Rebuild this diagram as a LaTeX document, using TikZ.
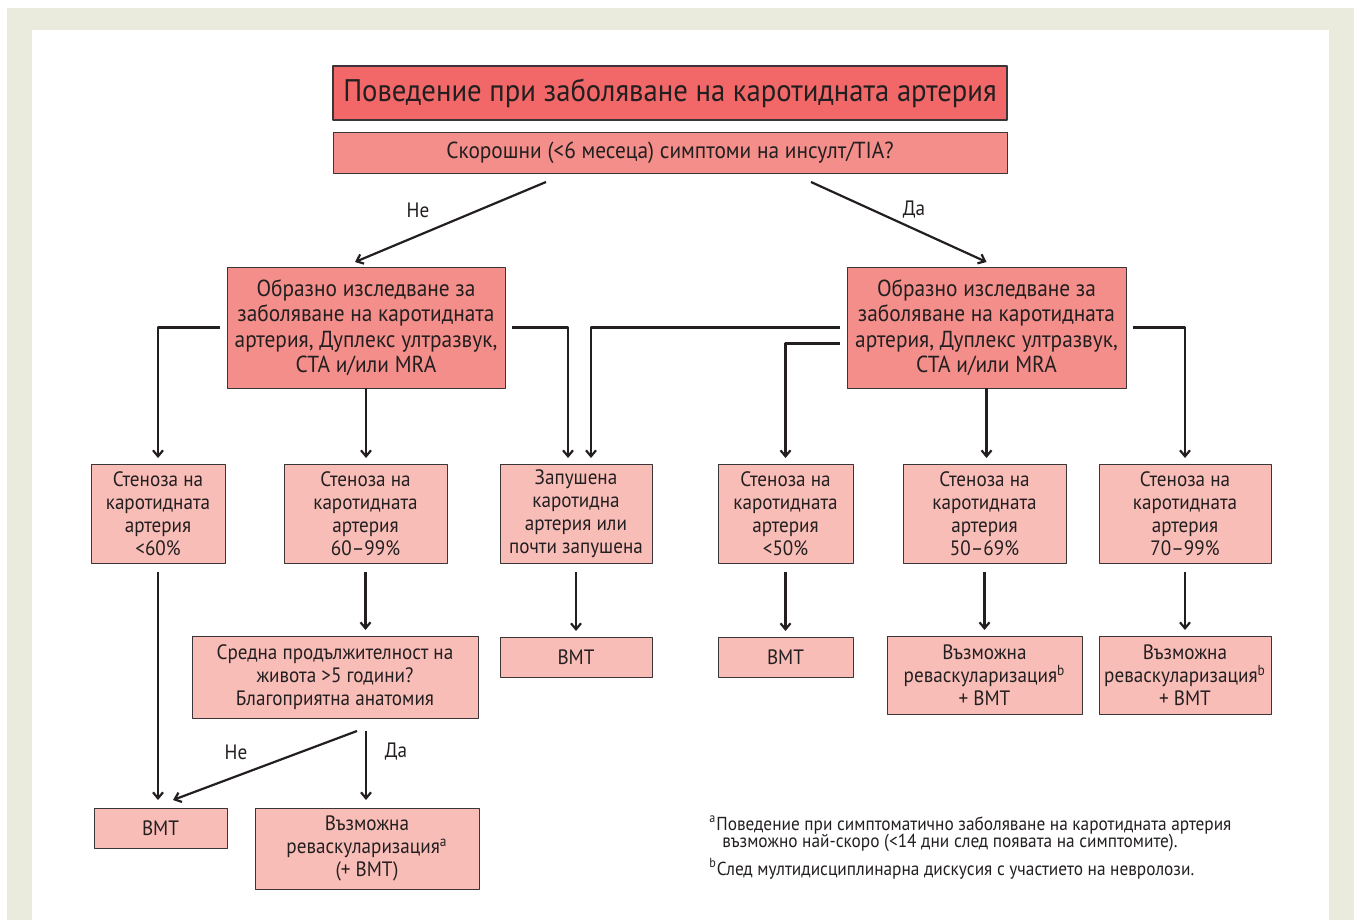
\documentclass[tikz,border=0pt]{standalone}
\usepackage{fontspec}
\setmainfont{PT Sans}[FakeStretch=0.92]
\usepackage{xcolor}
\usepackage{tikz}
\usetikzlibrary{arrows.meta,calc}

\definecolor{ink}{HTML}{231F20}
\definecolor{boxline}{HTML}{3A3536}
\definecolor{redhead}{HTML}{F26767}
\definecolor{redmid}{HTML}{F48E8A}
\definecolor{redlight}{HTML}{F9BDB8}
\definecolor{framebg}{HTML}{EAEADD}

\tikzset{
  box/.style={draw=boxline,line width=0.5pt,inner sep=0pt,outer sep=0pt,align=center,text=ink},
  topbox/.style={box,fill=redhead,line width=0.8pt,font=\fontsize{15.6}{18}\selectfont},
  qbox/.style={box,fill=redmid,font=\fontsize{11.6}{13}\selectfont},
  scanbox/.style={box,fill=redmid,font=\fontsize{11.6}{12.75}\selectfont},
  pinkbox/.style={box,fill=redlight,font=\fontsize{10.4}{11.5}\selectfont},
  link/.style={-{Straight Barb[length=3pt,width=5pt]},line width=1.1pt,draw=ink},
  answer/.style={font=\fontsize{10.4}{12}\selectfont,text=ink},
  note/.style={font=\fontsize{9.4}{10}\selectfont,text=ink,inner sep=0pt,anchor=west},
}

\begin{document}
\begin{tikzpicture}[x=0.5pt,y=-0.5pt,line join=round]
  \useasboundingbox (0,0) rectangle (1354,920);
  \fill[framebg] (7,8) rectangle (1354,920);
  \fill[white] (32,30) rectangle (1329,920);

  % header
  \node[topbox,minimum width=337pt,minimum height=27pt] (title) at (670,93)
    {Поведение при заболяване на каротидната артерия};
  \node[qbox,minimum width=337pt,minimum height=20pt] (q) at (670,153)
    {Скорошни (<6 месеца) симптоми на инсулт/TIA?};

  % imaging
  \node[scanbox,minimum width=139pt,minimum height=60.5pt] (img1) at (366,327.5)
    {Образно изследване за\\заболяване на каротидната\\артерия, Дуплекс ултразвук,\\CTA и/или MRA};
  \node[scanbox,minimum width=139.5pt,minimum height=60.5pt] (img2) at (986.5,327.5)
    {Образно изследване за\\заболяване на каротидната\\артерия, Дуплекс ултразвук,\\CTA и/или MRA};

  % stenosis level
  \node[pinkbox,minimum width=67pt,minimum height=49.5pt] (s1) at (158,513.5)
    {Стеноза на\\каротидната\\артерия\\<60\%};
  \node[pinkbox,minimum width=81.5pt,minimum height=49.5pt] (s2) at (365.5,513.5)
    {Стеноза на\\каротидната\\артерия\\60–99\%};
  \node[pinkbox,minimum width=76pt,minimum height=49.5pt] (s3) at (576,513.5)
    {Запушена\\каротидна\\артерия или\\почти запушена};
  \node[pinkbox,minimum width=67.5pt,minimum height=49.5pt] (s4) at (785.5,513.5)
    {Стеноза на\\каротидната\\артерия\\<50\%};
  \node[pinkbox,minimum width=81.5pt,minimum height=49.5pt] (s5) at (984.5,513.5)
    {Стеноза на\\каротидната\\артерия\\50–69\%};
  \node[pinkbox,minimum width=86pt,minimum height=49.5pt] (s6) at (1185,513.5)
    {Стеноза на\\каротидната\\артерия\\70–99\%};

  % outcomes
  \node[pinkbox,minimum width=143pt,minimum height=41pt] (life) at (335,677)
    {Средна продължителност на\\живота >5 години?\\Благоприятна анатомия};
  \node[pinkbox,minimum width=76pt,minimum height=20pt] (bmt3) at (576,657) {BMT};
  \node[pinkbox,minimum width=67.5pt,minimum height=20pt] (bmt4) at (785.5,657) {BMT};
  \node[pinkbox,minimum width=97.5pt,minimum height=39pt] (rev5) at (984.5,675)
    {Възможна\\реваскуларизация\textsuperscript{b}\\+ BMT};
  \node[pinkbox,minimum width=86pt,minimum height=39pt] (rev6) at (1185,675)
    {Възможна\\реваскуларизация\textsuperscript{b}\\+ BMT};
  \node[pinkbox,minimum width=66.5pt,minimum height=20pt] (bmt1) at (160.5,828) {BMT};
  \node[pinkbox,minimum width=112pt,minimum height=40.5pt] (rev2) at (367,848.5)
    {Възможна\\реваскуларизация\textsuperscript{a}\\(+ BMT)};

  % connectors
  \draw[link] ($(q.south)+(-124,9)$) -- ($(img1.north)+(-11,-5)$);
  \draw[link] ($(q.south)+(141,9)$) -- ($(img2.north)+(0,-5)$);
  \node[answer] (no1) at (418,210) {Не};
  \node[answer] (yes1) at (914,210) {Да};

  \draw[link,shorten <=3.5pt,shorten >=3pt] (img1.west) -| (s1.north);
  \draw[link,shorten >=3pt] (img1.south) -- (img1.south |- s2.north);
  \draw[link,shorten <=3.5pt,shorten >=3pt] (img1.east) -| ([xshift=-4pt]s3.north);
  \draw[link,shorten <=3.5pt,shorten >=3pt] (img2.west) -| ([xshift=7.5pt]s3.north);
  \draw[link,shorten <=3.5pt,shorten >=3pt] ([yshift=-8pt]img2.west) -| (s4.north);
  \draw[link,shorten >=3pt] (img2.south) -- (img2.south |- s5.north);
  \draw[link,shorten <=3.5pt,shorten >=3pt] (img2.east) -| (s6.north);

  \draw[link,shorten <=4.5pt,shorten >=4pt] (s1.south) -- (s1.south |- bmt1.north);
  \draw[link,shorten <=4.5pt,shorten >=3pt] (s2.south) -- (s2.south |- life.north);
  \draw[link,shorten <=4.5pt,shorten >=3pt] (s3.south) -- (bmt3.north);
  \draw[link,shorten <=4.5pt,shorten >=3pt] (s4.south) -- (bmt4.north);
  \draw[link,shorten <=4.5pt,shorten >=3pt] (s5.south) -- (rev5.north);
  \draw[link,shorten <=4.5pt,shorten >=3pt] (s6.south) -- (rev6.north);

  \draw[link] ($(life.south)+(22,13)$) -- ($(bmt1.north)+(12.5,-8)$);
  \draw[link] ($(life.south)+(31,13)$) -- ($(rev2.north)+(-1,-8)$);
  \node[answer] (no2) at (236,752) {Не};
  \node[answer] (yes2) at (396,752) {Да};

  % footnotes
  \node[note] (fna) at (709,825)
    {\textsuperscript{a}Поведение при симптоматично заболяване на каротидната артерия};
  \node[note] (fna2) at (722,843)
    {възможно най-скоро (<14 дни след появата на симптомите).};
  \node[note] (fnb) at (709,869)
    {\textsuperscript{b}След мултидисциплинарна дискусия с участието на невролози.};
\end{tikzpicture}
\end{document}
